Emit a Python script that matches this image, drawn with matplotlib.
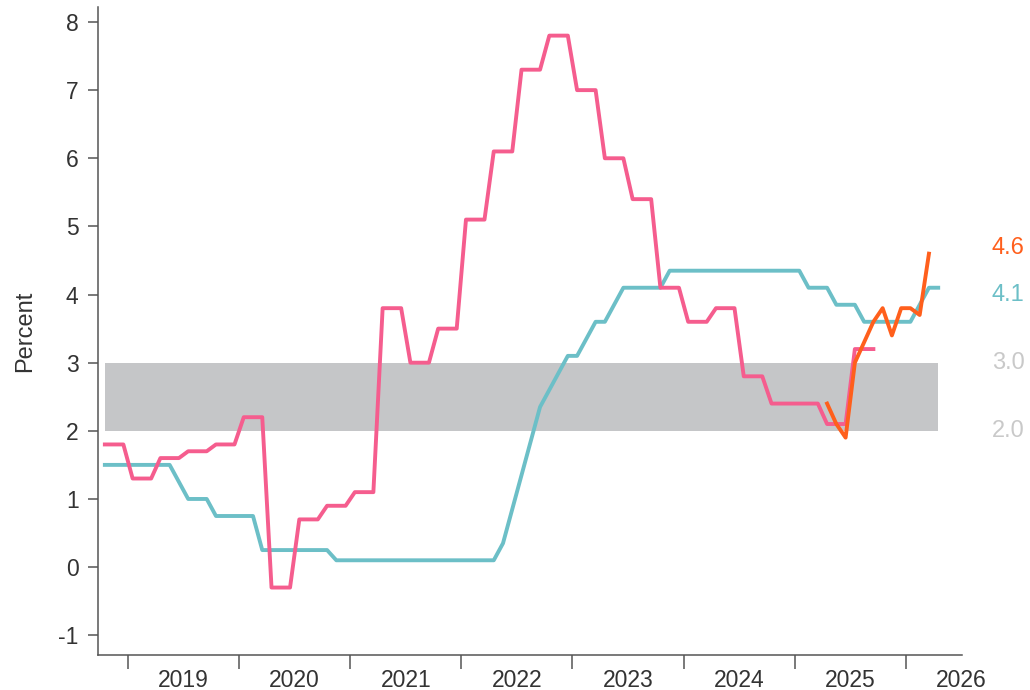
"""
Inflation vs cash rate, with the 2-3 per cent target band
"""
import numpy as np
import matplotlib.pyplot as plt

plt.rcParams['font.family'] = ['Liberation Sans', 'DejaVu Sans']
plt.rcParams['axes.unicode_minus'] = False

PINK = '#F55D8E'
TEAL = '#6CBFC7'
ORANGE = '#FF5F1C'
BAND = '#C5C6C8'
LABEL_GREY = '#C9C9C9'
TEXT = '#333333'
SPINE = '#555555'

YEARS = [2019, 2020, 2021, 2022, 2023, 2024, 2025, 2026]
Y_TICKS = [-1, 0, 1, 2, 3, 4, 5, 6, 7, 8]

# Quarterly CPI, y/y %, Q4 2018 .. Q3 2025 (held for each month of the quarter)
cpi_quarterly = [1.8,
                 1.3, 1.6, 1.7, 1.8,
                 2.2, -0.3, 0.7, 0.9,
                 1.1, 3.8, 3.0, 3.5,
                 5.1, 6.1, 7.3, 7.8,
                 7.0, 6.0, 5.4, 4.1,
                 3.6, 3.8, 2.8, 2.4,
                 2.4, 2.1, 3.2]
cpi_start = -3  # months from Jan 2019 (Oct 2018)

# Cash rate, monthly, Oct 2018 .. Apr 2026
cash_rate = [1.5, 1.5, 1.5,
             1.5, 1.5, 1.5, 1.5, 1.5, 1.25, 1.0, 1.0, 1.0, 0.75, 0.75, 0.75,
             0.75, 0.75, 0.25, 0.25, 0.25, 0.25, 0.25, 0.25, 0.25, 0.25, 0.1, 0.1,
             0.1, 0.1, 0.1, 0.1, 0.1, 0.1, 0.1, 0.1, 0.1, 0.1, 0.1, 0.1,
             0.1, 0.1, 0.1, 0.1, 0.35, 0.85, 1.35, 1.85, 2.35, 2.6, 2.85, 3.1,
             3.1, 3.35, 3.6, 3.6, 3.85, 4.1, 4.1, 4.1, 4.1, 4.1, 4.35, 4.35,
             4.35, 4.35, 4.35, 4.35, 4.35, 4.35, 4.35, 4.35, 4.35, 4.35, 4.35, 4.35,
             4.35, 4.1, 4.1, 4.1, 3.85, 3.85, 3.85, 3.6, 3.6, 3.6, 3.6, 3.6,
             3.6, 3.85, 4.1, 4.1]
cash_start = -3

# Monthly CPI indicator, Apr 2025 .. Mar 2026
cpi_monthly = [2.4, 2.1, 1.9, 3.0, 3.3, 3.6, 3.8, 3.4, 3.8, 3.8, 3.7, 4.6]
monthly_start = 75

target_low = 2.0
target_high = 3.0


def month_axis(start, n):
    # mid-month position, in months from 1 Jan 2019
    return np.arange(start, start + n) + 0.5


def main():
    fig = plt.figure(figsize=(10.3, 6.9), dpi=100)
    ax = fig.add_axes([98 / 1030, 1 - 655 / 690,
                       (962 - 98) / 1030, (655 - 7) / 690])

    x_cash = month_axis(cash_start, len(cash_rate))
    pink = np.repeat(cpi_quarterly, 3)
    x_pink = month_axis(cpi_start, len(pink))
    x_monthly = month_axis(monthly_start, len(cpi_monthly))

    # Target band
    ax.fill_between(x_cash, target_low, target_high, color=BAND, lw=0, zorder=1)

    ax.plot(x_cash, cash_rate, color=TEAL, lw=2.8, zorder=2,
            solid_joinstyle='round')
    ax.plot(x_pink, pink, color=PINK, lw=2.8, zorder=3,
            solid_joinstyle='round')
    ax.plot(x_monthly, cpi_monthly, color=ORANGE, lw=2.8, zorder=4,
            solid_joinstyle='round')

    # Axes
    ax.set_xlim(-3.24, 90.07)
    ax.set_ylim(-1.29, 8.22)
    for side in ['top', 'right']:
        ax.spines[side].set_visible(False)
    for side in ['left', 'bottom']:
        ax.spines[side].set_color(SPINE)
        ax.spines[side].set_linewidth(1.1)

    ax.set_yticks(Y_TICKS)
    ax.set_yticklabels([str(v) for v in Y_TICKS])
    ax.tick_params(axis='y', direction='out', length=7, width=1.1,
                   color=SPINE, pad=7, labelsize=16.5, labelcolor=TEXT)

    ax.set_xticks([12 * i for i in range(len(YEARS))])
    ax.set_xticklabels([])
    ax.set_xticks([12 * i + 6 for i in range(len(YEARS))], minor=True)
    ax.set_xticklabels([str(y) for y in YEARS], minor=True)
    ax.tick_params(axis='x', which='major', direction='out', length=10,
                   width=1.1, color=SPINE)
    ax.tick_params(axis='x', which='minor', length=0, pad=10,
                   labelsize=16.5, labelcolor=TEXT)

    ax.set_ylabel('Percent', fontsize=17, color=TEXT, labelpad=16)

    # End labels
    lx = 93.27
    ax.text(lx, 4.68, '4.6', color=ORANGE, fontsize=17, va='center',
            ha='left', clip_on=False)
    ax.text(lx, 4.0, '4.1', color=TEAL, fontsize=17, va='center',
            ha='left', clip_on=False)
    ax.text(lx, target_high, '3.0', color=LABEL_GREY, fontsize=17,
            va='center', ha='left', clip_on=False)
    ax.text(lx, target_low, '2.0', color=LABEL_GREY, fontsize=17,
            va='center', ha='left', clip_on=False)

    fig.savefig('out.png', dpi=100)


if __name__ == '__main__':
    main()
